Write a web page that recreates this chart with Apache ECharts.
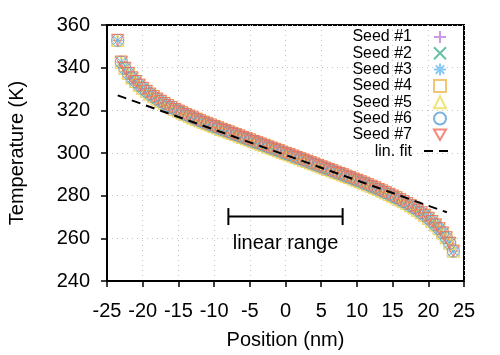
<!DOCTYPE html>
<html>
<head>
<meta charset="utf-8">
<script src="https://cdn.jsdelivr.net/npm/echarts@6/dist/echarts.min.js"></script>
<style>
  html, body { margin: 0; padding: 0; background: #fff; }
  #chart { width: 500px; height: 355px; }
</style>
</head>
<body>
<div id="chart"></div>
<script>
// positions of the bins (nm)
const positions = [
  -23.5, -23, -22.5, -22, -21.5, -21, -20.5, -20, -19.5, -19, -18.5, -18,
  -17.5, -17, -16.5, -16, -15.5, -15, -14.5, -14, -13.5, -13, -12.5, -12,
  -11.5, -11, -10.5, -10, -9.5, -9, -8.5, -8, -7.5, -7, -6.5, -6,
  -5.5, -5, -4.5, -4, -3.5, -3, -2.5, -2, -1.5, -1, -0.5, 0,
  0.5, 1, 1.5, 2, 2.5, 3, 3.5, 4, 4.5, 5, 5.5, 6,
  6.5, 7, 7.5, 8, 8.5, 9, 9.5, 10, 10.5, 11, 11.5, 12,
  12.5, 13, 13.5, 14, 14.5, 15, 15.5, 16, 16.5, 17, 17.5, 18,
  18.5, 19, 19.5, 20, 20.5, 21, 21.5, 22, 22.5, 23, 23.5
];

// temperature profile (K), the seeds overlap almost exactly
const tempProfile = [
  352.8, 342.6, 339.7, 337.3, 335.2, 333.5, 331.8, 330.3, 328.9, 327.6, 326.4, 325.3,
  324.2, 323.2, 322.2, 321.3, 320.4, 319.6, 318.8, 318.0, 317.3, 316.5, 315.8, 315.1,
  314.4, 313.7, 313.1, 312.4, 311.8, 311.1, 310.5, 309.9, 309.2, 308.6, 308.0, 307.3,
  306.7, 306.1, 305.4, 304.8, 304.2, 303.6, 302.9, 302.3, 301.7, 301.1, 300.4, 299.8,
  299.2, 298.6, 297.9, 297.3, 296.7, 296.1, 295.4, 294.8, 294.2, 293.5, 292.9, 292.3,
  291.7, 291.0, 290.4, 289.8, 289.1, 288.5, 287.8, 287.2, 286.5, 285.8, 285.1, 284.4,
  283.7, 282.9, 282.2, 281.4, 280.6, 279.8, 279.0, 278.1, 277.2, 276.3, 275.3, 274.3,
  273.2, 272.0, 270.8, 269.4, 267.9, 266.3, 264.5, 262.5, 260.3, 257.7, 254.0
];

const seedNames = ["Seed #1", "Seed #2", "Seed #3", "Seed #4", "Seed #5", "Seed #6", "Seed #7"];
const seedColors = ["#c07ee6", "#3fb08e", "#6cbcf0", "#f0b850", "#eedd55", "#5a9fd6", "#f06a5a"];
const seedSymbols = [
  "path://M5,0L5,10M0,5L10,5",
  "path://M0,0L10,10M10,0L0,10",
  "path://M5,0L5,10M0,5L10,5M1.5,1.5L8.5,8.5M8.5,1.5L1.5,8.5",
  "rect",
  "triangle",
  "circle",
  "path://M0,0L10,0L5,8.7Z"
];
const seedSizes = [10, 10, 10, 12, 12, 12, 12];

const fitName = "lin. fit";
const fitX = [-23.5, 22.6];
const fitT = [327.0, 272.2];

const rangeX = [-8, 8];
const rangeT = 270.2;
const rangeLabel = "linear range";
const rangeLabelAt = [0, 257.8];

const FONT = "Liberation Sans";

const chart = echarts.init(document.getElementById("chart"), null, { renderer: "canvas" });

const seedSeries = seedNames.map((name, s) => ({
  type: "scatter",
  name: name,
  data: positions.map((x, i) => [x, tempProfile[i]]),
  symbol: seedSymbols[s],
  symbolSize: seedSizes[s],
  itemStyle: { color: "rgba(0,0,0,0)", borderColor: seedColors[s], borderWidth: 1 },
  silent: true,
  z: 2
}));

function axisCommon(labelMargin) {
  return {
    type: "value",
    nameLocation: "middle",
    nameTextStyle: { fontSize: 20, color: "#000", fontFamily: FONT },
    axisLine: { show: true, onZero: false, lineStyle: { color: "#000", width: 2 } },
    axisTick: { show: true, inside: false, length: 6, lineStyle: { color: "#000", width: 1.5 } },
    axisLabel: { fontSize: 20, color: "#000", fontFamily: FONT, margin: labelMargin },
    splitLine: { show: true, lineStyle: { color: "#c4c4c4", width: 1, type: [1, 4] } },
    minorTick: { show: false }
  };
}

const legendText = { fontSize: 16, lineHeight: 16, color: "#000", fontFamily: FONT };

chart.setOption({
  animation: false,
  backgroundColor: "#fff",
  grid: {
    left: 107, right: 36, top: 25, bottom: 74,
    outerBoundsMode: "none",
    containLabel: false,
    show: true, borderColor: "#000", borderWidth: 2, backgroundColor: "transparent"
  },
  xAxis: Object.assign(axisCommon(20), {
    min: -25, max: 25, interval: 5,
    name: "Position (nm)",
    nameGap: 49
  }),
  yAxis: Object.assign(axisCommon(17), {
    min: 240, max: 360, interval: 20,
    name: "Temperature (K)",
    nameGap: 80
  }),
  legend: [
    {
      orient: "vertical",
      right: 53,
      top: 29,
      align: "right",
      padding: 0,
      itemGap: 0.3,
      itemWidth: 12,
      itemHeight: 12,
      textStyle: Object.assign({ padding: [0, 17, 0, 0] }, legendText),
      data: seedNames
    },
    {
      orient: "vertical",
      right: 48,
      top: 29 + 7 * 16.3,
      align: "right",
      padding: 0,
      itemWidth: 27,
      itemHeight: 12,
      textStyle: Object.assign({ padding: [0, 7, 0, 0] }, legendText),
      data: [{ name: fitName, itemStyle: { color: "rgba(0,0,0,0)", borderWidth: 0 } }]
    }
  ],
  series: seedSeries.concat([
    {
      type: "line",
      name: fitName,
      data: [[fitX[0], fitT[0]], [fitX[1], fitT[1]]],
      symbol: "none",
      lineStyle: { color: "#000", width: 2, type: [9, 6] },
      itemStyle: { color: "#000" },
      silent: true,
      z: 5
    },
    {
      type: "line",
      name: "range",
      data: [[rangeX[0], rangeT], [rangeX[1], rangeT]],
      symbol: "rect",
      symbolSize: [2, 17],
      itemStyle: { color: "#000" },
      lineStyle: { color: "#000", width: 2 },
      silent: true,
      z: 5
    }
  ])
});

// "linear range" text placed from data coordinates
const labelPx = chart.convertToPixel({ gridIndex: 0 }, rangeLabelAt);
chart.setOption({
  graphic: [{
    type: "text",
    x: labelPx[0],
    y: labelPx[1],
    silent: true,
    style: {
      text: rangeLabel,
      font: "20px " + FONT,
      fill: "#000",
      align: "center",
      verticalAlign: "middle"
    }
  }]
});
</script>
</body>
</html>
